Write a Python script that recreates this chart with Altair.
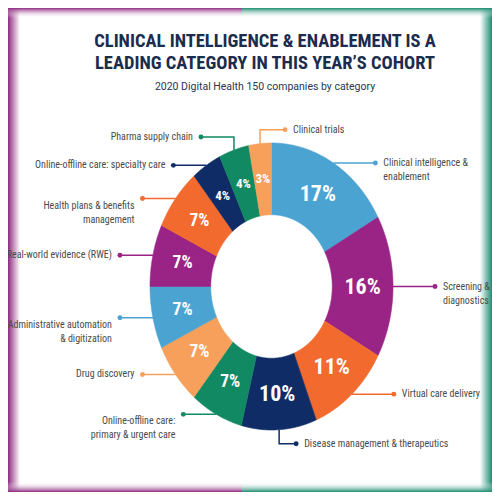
import altair as alt
import pandas as pd

# ---------------- data ----------------
categories = [
    "Clinical intelligence & enablement",
    "Screening & diagnostics",
    "Virtual care delivery",
    "Disease management & therapeutics",
    "Online-offline care: primary & urgent care",
    "Drug discovery",
    "Administrative automation & digitization",
    "Real-world evidence (RWE)",
    "Health plans & benefits management",
    "Online-offline care: specialty care",
    "Pharma supply chain",
    "Clinical trials",
]
label_lines = [
    "Clinical intelligence &\nenablement",
    "Screening &\ndiagnostics",
    "Virtual care delivery",
    "Disease management & therapeutics",
    "Online-offline care:\nprimary & urgent care",
    "Drug discovery",
    "Administrative automation\n& digitization",
    "Real-world evidence (RWE)",
    "Health plans & benefits\nmanagement",
    "Online-offline care: specialty care",
    "Pharma supply chain",
    "Clinical trials",
]
shares = [17, 16, 11, 10, 7, 7, 7, 7, 7, 4, 4, 3]
slice_colors = [
    "#4BA3D2", "#9A2386", "#F26A2D", "#0F2C66", "#118A63", "#F6A05B",
    "#4BA3D2", "#9A2386", "#F26A2D", "#0F2C66", "#118A63", "#F6A05B",
]

# ---------------- layout (not data) ----------------
elbows = {
    "Disease management & therapeutics": (-14, 17),
    "Pharma supply chain": (13, -33),
    "Clinical trials": (14, 25),
}
RX, RY = 121.5, 143.5
INNER = 0.5
N = 90
REACH_R, REACH_L = 42, 33
W, H = 484, 484
CX, CY = 263.5, 278.5
COND = "Roboto Condensed, sans-serif"

df = pd.DataFrame({
    "category": categories,
    "label": label_lines,
    "share": shares,
    "idx": list(range(len(categories))),
    "ev": [elbows.get(c, (0, 0))[0] for c in categories],
    "eh": [elbows.get(c, (0, 0))[1] for c in categories],
})

xscale = alt.Scale(domain=[-CX, W - CX], nice=False, zero=False)
yscale = alt.Scale(domain=[CY - H, CY], nice=False, zero=False)
cscale = alt.Scale(domain=categories, range=slice_colors)

base = (
    alt.Chart(df)
    .transform_window(cum="sum(share)", sort=[alt.SortField("idx")], frame=[None, 0])
    .transform_joinaggregate(total="sum(share)")
    .transform_calculate(start="datum.cum - datum.share")
    .transform_calculate(thm="2*PI*(datum.cum - datum.share/2)/datum.total")
)

ring = (
    base.transform_calculate(pts=f"sequence(0, {2 * N + 2})")
    .transform_flatten(["pts"])
    .transform_calculate(frac=f"datum.pts <= {N} ? datum.pts/{N} : ({2 * N + 1} - datum.pts)/{N}")
    .transform_calculate(rr=f"datum.pts <= {N} ? 1 : {INNER}")
    .transform_calculate(th="2*PI*(datum.start + datum.frac*datum.share)/datum.total")
    .transform_calculate(px=f"{RX}*datum.rr*sin(datum.th)")
    .transform_calculate(py=f"{RY}*datum.rr*cos(datum.th)")
    .mark_line(filled=True, interpolate="linear-closed", strokeWidth=0.6)
    .encode(
        x=alt.X("px:Q", scale=xscale, axis=None),
        y=alt.Y("py:Q", scale=yscale, axis=None),
        fill=alt.Fill("category:N", scale=cscale, legend=None),
        stroke=alt.Stroke("category:N", scale=cscale, legend=None),
        detail="category:N",
        order=alt.Order("pts:Q"),
    )
)

pct = (
    base.transform_calculate(lx=f"{RX * 0.75}*sin(datum.thm)")
    .transform_calculate(ly=f"{RY * 0.75}*cos(datum.thm)")
    .transform_calculate(txt="datum.share + '%'")
    .mark_text(font=COND, fontWeight="bold", color="white", baseline="middle", align="center")
    .encode(
        x=alt.X("lx:Q", scale=xscale, axis=None),
        y=alt.Y("ly:Q", scale=yscale, axis=None),
        text="txt:N",
        size=alt.Size("share:Q", scale=alt.Scale(domain=[4, 10], range=[13, 22], clamp=True), legend=None),
    )
)

lead_base = (
    base.transform_calculate(ax=f"{RX}*sin(datum.thm)")
    .transform_calculate(ay=f"{RY}*cos(datum.thm)")
    .transform_calculate(hdir="datum.eh != 0 ? (datum.eh > 0 ? 1 : -1) : (datum.ax >= 0 ? 1 : -1)")
    .transform_calculate(reach=f"datum.eh != 0 ? datum.eh : (datum.ax >= 0 ? {REACH_R} : -{REACH_L})")
    .transform_calculate(by="datum.ay + datum.ev")
    .transform_calculate(cx="datum.ax + datum.reach")
    .transform_calculate(nl="split(datum.label, '\\n').length")
)

leaders = (
    lead_base.transform_calculate(lp="sequence(0, 3)")
    .transform_flatten(["lp"])
    .transform_calculate(lx="datum.lp == 2 ? datum.cx : datum.ax")
    .transform_calculate(ly="datum.lp == 0 ? datum.ay : datum.by")
    .mark_line(strokeWidth=1.5)
    .encode(
        x=alt.X("lx:Q", scale=xscale, axis=None),
        y=alt.Y("ly:Q", scale=yscale, axis=None),
        color=alt.Color("category:N", scale=cscale, legend=None),
        detail="category:N",
        order=alt.Order("lp:Q"),
    )
)

dots = lead_base.mark_circle(size=24, opacity=1).encode(
    x=alt.X("cx:Q", scale=xscale, axis=None),
    y=alt.Y("by:Q", scale=yscale, axis=None),
    color=alt.Color("category:N", scale=cscale, legend=None),
)

text_kw = dict(font=COND, fontSize=10, color="#4A4A4A", baseline="middle", lineBreak="\n", lineHeight=14)
right_labels = (
    lead_base.transform_filter("datum.hdir > 0")
    .transform_calculate(tx="datum.cx + 8")
    .mark_text(align="left", **text_kw)
    .encode(
        x=alt.X("tx:Q", scale=xscale, axis=None),
        y=alt.Y("by:Q", scale=yscale, axis=None),
        text="label:N",
    )
)
left_labels = (
    lead_base.transform_filter("datum.hdir < 0")
    .transform_calculate(tx="datum.cx - 8")
    .transform_calculate(ty="datum.by - (datum.nl - 1)*7")
    .mark_text(align="right", **text_kw)
    .encode(
        x=alt.X("tx:Q", scale=xscale, axis=None),
        y=alt.Y("ty:Q", scale=yscale, axis=None),
        text="label:N",
    )
)

# ---------------- decorative frame ----------------
PURPLE, TEAL = "#8E2B80", "#1B8C70"
CLEAR = "rgba(255,255,255,0)"
one = pd.DataFrame({"k": [0]})


def band(x0, x1, y0, y1, c0, c1, horizontal):
    grad = alt.LinearGradient(
        gradient="linear",
        stops=[alt.GradientStop(color=c0, offset=0), alt.GradientStop(color=c1, offset=1)],
        x1=0, x2=1 if horizontal else 0, y1=0, y2=0 if horizontal else 1,
    )
    return alt.Chart(one).mark_rect(color=grad).encode(
        x=alt.value(x0), x2=alt.value(x1), y=alt.value(y0), y2=alt.value(y1)
    )


SPLIT = 234
frame = [
    band(0, 12, 0, H, PURPLE, "white", True),
    band(W - 12, W, 0, H, "white", TEAL, True),
    band(0, SPLIT, 0, 10, PURPLE, CLEAR, False),
    band(SPLIT, W, 0, 10, TEAL, CLEAR, False),
    band(0, SPLIT, H - 10, H, CLEAR, PURPLE, False),
    band(SPLIT, W, H - 10, H, CLEAR, TEAL, False),
]

chart = (
    alt.layer(*frame, ring, leaders, dots, pct, right_labels, left_labels)
    .properties(
        width=W,
        height=H,
        autosize=alt.AutoSizeParams(type="none"),
        padding={"left": 0, "top": 0, "right": 0, "bottom": 0},
        title=alt.TitleParams(
            text=["CLINICAL INTELLIGENCE & ENABLEMENT IS A", "LEADING CATEGORY IN THIS YEAR\u2019S COHORT"],
            subtitle="2020 Digital Health 150 companies by category",
            font=COND,
            fontSize=18.5,
            fontWeight="bold",
            color="#1C2C4C",
            lineHeight=22,
            subtitleFont="Roboto, sans-serif",
            subtitleFontSize=10.5,
            subtitleFontWeight="normal",
            subtitleColor="#2A3652",
            subtitlePadding=9,
            anchor="middle",
            dx=15,
            offset=-84,
        ),
        background="white",
    )
    .configure_view(stroke=None)
)

chart.save("out.html", embed_options={"renderer": "svg", "actions": False})
